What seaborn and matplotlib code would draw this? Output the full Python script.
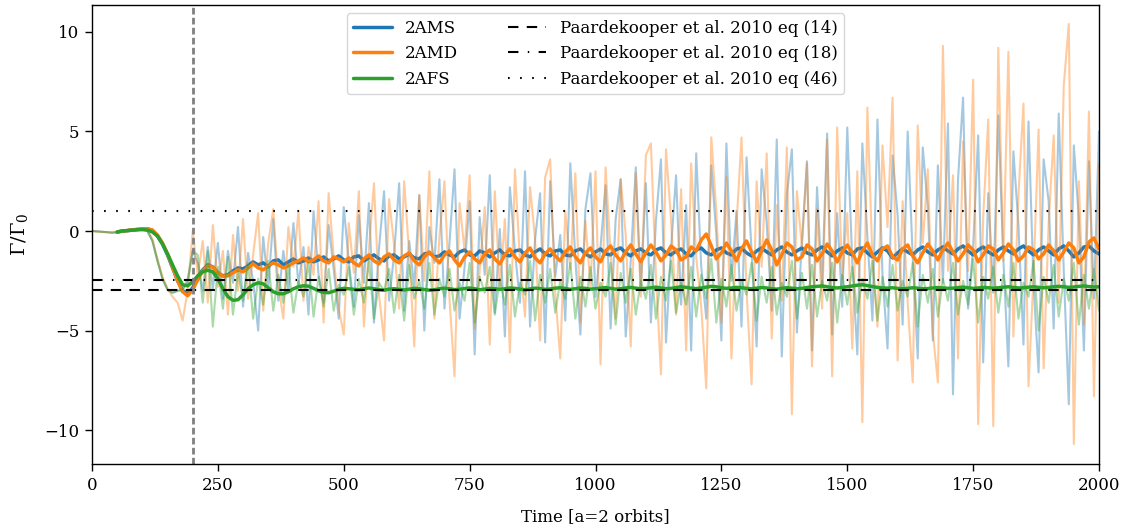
import numpy as np
import pandas as pd
import matplotlib
matplotlib.use("Agg")
import matplotlib.pyplot as plt
import seaborn as sns

# ---------------- data ----------------
series_names = ["2AMS", "2AMD", "2AFS"]
ref_labels = ["Paardekooper et al. 2010 eq (14)",
              "Paardekooper et al. 2010 eq (18)",
              "Paardekooper et al. 2010 eq (46)"]
ref_values = [-2.96, -2.46, 1.0]
t_disc = 200

# raw torque, sampled every 10 time units from t=0 to t=2000
raw_2AMS = [
    0.0, -0.02, -0.04, -0.06, -0.08, -0.06, 0.0, 0.05, 0.08, 0.1, 0.08,
    0.0, -0.5, -1.5, -2.4, -2.95, -3.1, -3.0, -3.0, -2.4, -1.0,
    -1.6, -3.0, -0.8, -2.9, -0.6, -3.4, -1.0, -2.6, 0.2, -3.8,
    -1.1, -2.5, -5.0, -0.3, -2.8, 0.6, -3.5, -1.0, -3.0, 0.4,
    -2.7, -0.8, -4.2, 1.0, -2.2, -3.6, 0.3, -1.9, -4.4, 1.2,
    -1.5, -3.8, 0.8, -2.6, 1.4, -4.6, -0.9, 2.0, -3.5, -1.2,
    2.4, -4.0, -0.5, -2.8, 1.8, -5.0, 0.2, -1.6, 2.6, -3.9,
    -0.6, 3.1, -4.4, -1.8, 1.5, -6.2, 0.7, -2.2, 2.8, -4.1,
    0.1, -5.3, 2.2, -1.0, -3.6, 3.0, -4.8, -0.4, 1.9, -5.6,
    2.5, -2.3, -0.2, -4.5, 3.4, -1.4, -5.2, 1.1, 2.9, -3.3,
    -0.8, 2.3, -4.9, 0.6, 2.6, -5.3, -1.5, 3.2, -2.9, 2.4,
    -4.6, 0.5, 3.6, -5.6, -0.9, 2.8, -3.7, 1.3, -6.0, 3.9,
    -1.8, -4.4, 3.3, -0.2, -5.5, 4.4, -2.5, 1.0, -4.8, 3.7,
    -1.0, -5.8, 3.1, 0.4, -4.0, 4.6, -6.3, 1.8, 4.1, -5.1,
    -0.5, 3.5, -6.0, 2.2, -2.8, 4.9, -5.2, 0.9, -3.8, 5.2,
    -1.6, -6.2, 4.4, -0.3, -4.5, 5.6, -2.2, -5.9, 3.8, 0.8,
    -4.7, 5.0, -1.3, -6.4, 4.2, 1.2, -5.5, 3.3, -2.6, 5.4,
    -8.2, 2.6, 6.7, -3.9, -0.8, 4.8, -6.6, 1.9, -3.1, 5.8,
    -1.4, -6.8, 4.0, 0.3, -5.7, 5.5, -2.7, -7.1, 3.6, 1.5,
    -4.9, 5.9, -2.0, -8.7, 4.3, 0.6, -6.0, 3.5, -3.4, 5.0,
]
raw_2AMD = [
    0.0, -0.02, -0.04, -0.06, -0.08, -0.06, 0.0, 0.05, 0.08, 0.1, 0.1,
    0.05, -0.4, -1.4, -2.3, -2.9, -3.3, -3.6, -4.5, -3.0, 0.0,
    -2.2, -0.5, -3.6, 0.3, -2.8, -1.0, -4.2, -0.2, -3.0, 0.6,
    -3.4, -1.2, 0.9, -4.0, -0.6, 1.1, -2.7, -4.4, 0.2, -1.8,
    1.0, -3.5, -0.8, -2.2, 1.5, -4.6, 1.9, -1.3, -3.9, -5.2,
    0.4, -2.1, 2.0, -4.8, -0.9, 2.4, -3.2, -5.5, 1.6, -0.7,
    -3.9, 2.5, -1.2, -5.8, 1.8, -2.5, 3.0, -4.4, -0.3, 2.5,
    -3.4, -7.3, 1.4, -1.0, 2.8, -4.9, -2.0, 1.2, -5.7, 2.0,
    -2.9, 0.6, -6.1, 3.1, -1.5, -4.3, 2.2, -0.4, -5.5, 2.7,
    3.6, -3.1, -6.4, 1.0, -1.9, 2.9, -4.6, 0.5, -2.8, 3.0,
    -6.7, 3.2, -1.1, -4.4, 2.6, -0.2, -5.8, 2.9, -3.3, 3.8,
    4.4, -2.2, -7.2, 4.1, 0.6, -4.2, 2.1, -6.0, 3.4, -1.3,
    -3.8, -7.9, 4.7, 1.0, -4.6, 2.7, -6.4, 0.3, 4.7, -3.0,
    -7.7, 2.5, -1.8, 3.9, -5.4, 1.3, -3.5, 4.2, -9.2, 2.0,
    -0.8, 3.4, -6.8, 1.1, -3.9, 4.6, -7.3, 5.2, -2.4, 0.9,
    -5.9, 3.0, -9.6, 6.2, -1.4, -4.8, 4.3, 0.2, 6.7, -6.5,
    1.5, -3.6, -7.6, 5.3, -0.6, 3.1, -5.1, -7.6, 9.3, -2.0,
    2.8, -6.4, 4.5, -2.0, 7.6, -9.7, 0.7, 5.6, -9.8, 9.2,
    -1.5, 9.0, -5.3, 1.8, 6.4, -7.8, -2.2, 5.1, -6.9, 0.4,
    4.8, -3.6, 7.3, 10.4, -10.7, 2.5, -4.7, 6.0, -8.3, 3.3,
]
raw_2AFS = [
    0.0, -0.02, -0.04, -0.06, -0.08, -0.06, 0.0, 0.05, 0.08, 0.1, 0.08,
    0.0, -0.5, -1.5, -2.4, -2.95, -3.1, -3.0, -2.9, -2.6, -1.0,
    -1.2, -3.6, -1.0, -4.8, -1.8, -3.9, -1.3, -4.2, -2.0, -3.5,
    -1.6, -4.4, -2.4, -3.7, -1.5, -4.0, -2.2, -3.6, -1.7, -4.1,
    -2.5, -3.3, -1.6, -4.3, -2.3, -3.8, -1.9, -4.0, -2.7, -3.2,
    -1.8, -4.2, -2.4, -3.6, -1.5, -4.4, -2.6, -3.0, -1.9, -4.1,
    -2.2, -4.5, -1.7, -3.4, -2.5, -3.9, -1.6, -4.2, -2.4, -3.3,
    -1.9, -4.0, -2.6, -3.5, -1.6, -4.6, -2.3, -3.1, -1.8, -4.2,
    -2.4, -3.7, -1.7, -4.3, -2.6, -3.2, -1.5, -4.5, -2.2, -3.6,
    -1.9, -4.1, -2.5, -3.4, -1.6, -4.4, -2.3, -3.8, -1.8, -3.9,
    -2.6, -3.3, -1.6, -4.7, -2.1, -3.6, -1.9, -4.2, -2.5, -3.4,
    -1.7, -4.4, -2.3, -3.5, -1.5, -4.1, -2.6, -3.7, -1.8, -4.3,
    -2.2, -3.4, -1.4, -4.6, -2.4, -3.8, -1.7, -4.0, -2.5, -3.2,
    -1.6, -4.5, -2.3, -3.6, -1.8, -4.2, -2.6, -3.3, -1.5, -4.4,
    -2.1, -3.9, -1.7, -4.3, -2.5, -3.5, -1.6, -4.6, -2.2, -3.7,
    -1.8, -4.1, -2.4, -3.4, -1.5, -4.5, -2.3, -3.8, -1.7, -4.0,
    -2.5, -3.3, -1.6, -4.8, -2.2, -3.6, -1.9, -4.3, -2.4, -3.5,
    -1.6, -4.2, -2.5, -3.7, -1.4, -4.6, -2.3, -3.4, -1.8, -4.1,
    -2.2, -3.8, -1.6, -4.4, -2.6, -3.3, -1.5, -5.0, -2.3, -3.6,
    -1.7, -4.3, -2.4, -3.5, -1.6, -4.7, -2.2, -3.9, -1.9, -4.0,
]

# running-mean torque, sampled every 10 time units from t=50 to t=2000
smooth_2AMS = [
    -0.05, 0.0, 0.02, 0.05, 0.08, 0.1,
    0.1, 0.03, -0.25, -0.65, -1.2, -1.85, -2.5, -3.0, -3.15, -2.85,
    -2.3, -1.95, -1.7, -1.8, -2.1, -2.25, -2.2, -2.0, -1.85, -1.9,
    -1.75, -1.55, -1.7, -1.6, -1.8, -1.5, -1.45, -1.7, -1.55, -1.4,
    -1.6, -1.5, -1.35, -1.55, -1.45, -1.3, -1.5, -1.4, -1.25, -1.45,
    -1.55, -1.3, -1.25, -1.5, -1.35, -1.2, -1.4, -1.5, -1.25, -1.2,
    -1.4, -1.3, -1.15, -1.35, -1.4, -1.15, -1.1, -1.3, -1.25, -1.05,
    -1.2, -1.3, -1.05, -0.95, -1.2, -1.25, -1.0, -1.1, -1.3, -1.1,
    -0.95, -1.2, -1.25, -1.0, -0.95, -1.2, -1.3, -1.05, -0.9, -1.15,
    -1.25, -1.0, -0.95, -1.2, -1.25, -1.0, -0.9, -1.15, -1.3, -1.05,
    -0.9, -1.15, -1.2, -0.95, -0.85, -1.1, -1.25, -1.0, -0.9, -1.1,
    -1.2, -0.95, -0.85, -1.1, -1.2, -1.0, -0.9, -1.15, -1.25, -0.95,
    -0.85, -1.1, -1.2, -0.95, -0.85, -1.1, -1.2, -0.9, -0.85, -1.1,
    -1.25, -1.0, -0.85, -1.05, -1.2, -0.95, -0.8, -1.05, -1.2, -1.0,
    -0.85, -1.1, -1.2, -0.95, -0.8, -1.05, -1.25, -1.0, -0.85, -1.1,
    -1.2, -0.9, -0.85, -1.1, -1.3, -1.05, -0.85, -1.0, -1.35, -1.1,
    -0.9, -1.05, -1.2, -0.95, -0.8, -1.05, -1.2, -0.95, -0.8, -1.0,
    -1.15, -0.9, -0.75, -1.0, -1.2, -0.95, -0.8, -1.05, -1.2, -0.95,
    -0.8, -1.0, -1.15, -0.9, -0.75, -1.0, -1.2, -0.95, -0.8, -1.0,
    -1.2, -0.9, -0.75, -1.0, -1.3, -1.1, -0.8, -0.75, -1.0, -1.15,
]
smooth_2AMD = [
    -0.05, 0.0, 0.02, 0.05, 0.08, 0.1,
    0.12, 0.05, -0.2, -0.6, -1.15, -1.8, -2.5, -3.05, -3.25, -2.95,
    -2.45, -2.0, -1.75, -1.8, -2.1, -2.28, -2.25, -2.1, -1.95, -2.05,
    -1.85, -1.65, -1.85, -1.95, -1.75, -1.6, -1.7, -1.85, -1.75, -1.6,
    -1.5, -1.35, -1.55, -1.45, -1.25, -1.5, -1.6, -1.3, -1.4, -1.55,
    -1.35, -1.6, -1.75, -1.4, -1.2, -1.5, -1.65, -1.3, -1.15, -1.45,
    -1.6, -1.25, -1.1, -1.5, -1.7, -1.3, -1.05, -1.35, -1.6, -1.2,
    -1.0, -1.45, -1.75, -1.3, -1.05, -1.4, -1.6, -1.15, -0.95, -1.4,
    -1.65, -1.2, -0.9, -1.3, -1.55, -1.1, -0.85, -1.35, -1.6, -1.15,
    -0.9, -1.25, -1.5, -1.05, -0.8, -1.3, -1.6, -1.1, -0.85, -1.3,
    -1.55, -1.0, -0.75, -1.2, -1.5, -1.05, -0.7, -1.15, -1.55, -1.1,
    -0.7, -1.05, -1.5, -1.2, -0.75, -0.95, -1.45, -1.3, -0.8, -1.0,
    -0.45, -0.15, -0.75, -1.4, -1.1, -0.6, -1.0, -1.5, -0.9, -0.5,
    -1.05, -1.55, -1.0, -0.45, -0.95, -1.7, -1.2, -0.6, -0.8, -1.45,
    -1.3, -0.7, -0.9, -1.5, -1.15, -0.65, -1.0, -1.55, -1.05, -0.7,
    -1.1, -1.6, -1.0, -0.6, -1.2, -1.5, -0.9, -0.75, -1.3, -1.45,
    -0.9, -0.7, -1.25, -1.6, -1.1, -0.65, -1.0, -1.45, -0.95, -0.6,
    -1.05, -1.5, -1.15, -0.7, -0.95, -1.55, -1.2, -0.75, -0.9, -1.45,
    -1.1, -0.65, -0.95, -1.5, -1.25, -0.8, -0.95, -1.4, -1.15, -0.7,
    -1.0, -1.45, -1.05, -0.6, -0.85, -1.6, -1.3, -0.55, -0.35, -0.9,
]
smooth_2AFS = [
    -0.05, 0.0, 0.02, 0.04, 0.06, 0.07,
    0.05, -0.05, -0.25, -0.65, -1.15, -1.7, -2.25, -2.7, -2.75, -2.55,
    -2.25, -2.05, -1.97, -2.05, -2.4, -2.9, -3.3, -3.48, -3.45, -3.2,
    -2.9, -2.7, -2.6, -2.65, -2.85, -3.05, -3.15, -3.15, -3.05, -2.9,
    -2.8, -2.75, -2.77, -2.88, -3.0, -3.08, -3.1, -3.02, -2.93, -2.88,
    -2.9, -2.93, -2.95, -2.9, -2.86, -2.9, -2.95, -2.97, -2.92, -2.9,
    -2.93, -2.96, -2.92, -2.88, -2.9, -2.94, -2.97, -2.95, -2.9, -2.87,
    -2.9, -2.94, -2.93, -2.89, -2.86, -2.9, -2.95, -2.92, -2.88, -2.9,
    -2.93, -2.9, -2.86, -2.88, -2.92, -2.95, -2.91, -2.87, -2.89, -2.93,
    -2.91, -2.87, -2.85, -2.89, -2.93, -2.9, -2.86, -2.88, -2.92, -2.9,
    -2.87, -2.84, -2.88, -2.92, -2.9, -2.86, -2.83, -2.87, -2.9, -2.88,
    -2.85, -2.82, -2.86, -2.9, -2.88, -2.84, -2.8, -2.83, -2.87, -2.89,
    -2.86, -2.82, -2.78, -2.8, -2.85, -2.88, -2.86, -2.83, -2.85, -2.88,
    -2.9, -2.87, -2.84, -2.86, -2.9, -2.92, -2.88, -2.85, -2.87, -2.9,
    -2.88, -2.84, -2.8, -2.78, -2.76, -2.8, -2.84, -2.86, -2.83, -2.8,
    -2.76, -2.72, -2.7, -2.74, -2.79, -2.83, -2.86, -2.87, -2.85, -2.88,
    -2.9, -2.88, -2.85, -2.87, -2.9, -2.89, -2.86, -2.84, -2.86, -2.88,
    -2.87, -2.84, -2.82, -2.85, -2.88, -2.86, -2.83, -2.85, -2.87, -2.85,
    -2.82, -2.8, -2.83, -2.86, -2.85, -2.82, -2.8, -2.83, -2.85, -2.83,
    -2.8, -2.78, -2.8, -2.83, -2.81, -2.78, -2.76, -2.79, -2.81, -2.8,
]

t_raw = np.arange(0, 2001, 10)
t_smooth = np.arange(50, 2001, 10)
raw_all = [raw_2AMS, raw_2AMD, raw_2AFS]
smooth_all = [smooth_2AMS, smooth_2AMD, smooth_2AFS]
for r, s in zip(raw_all, smooth_all):
    assert len(r) == len(t_raw), len(r)
    assert len(s) == len(t_smooth), len(s)

colors = ["#1f77b4", "#ff7f0e", "#2ca02c"]

# ---------------- style ----------------
sns.set_theme(style="ticks")
plt.rcParams.update({
    "font.family": ["DejaVu Serif"],
    "mathtext.fontset": "dejavuserif",
    "axes.edgecolor": "black",
    "axes.linewidth": 1.0,
    "text.color": "black",
    "axes.labelcolor": "black",
    "xtick.color": "black",
    "ytick.color": "black",
    "xtick.direction": "out",
    "ytick.direction": "out",
})

fig = plt.figure(figsize=(11.26, 5.32), dpi=100)
ax = fig.add_axes([92 / 1126, 1 - 464 / 532, (1099 - 92) / 1126, (464 - 5) / 532])

handles = []
for name, col, r, s in zip(series_names, colors, raw_all, smooth_all):
    df_r = pd.DataFrame({"t": t_raw, "torque": r})
    df_s = pd.DataFrame({"t": t_smooth, "torque": s})
    sns.lineplot(data=df_r, x="t", y="torque", ax=ax, color=col, alpha=0.4,
                 lw=1.5, legend=False, estimator=None, sort=False)
    sns.lineplot(data=df_s, x="t", y="torque", ax=ax, color=col, lw=2.5,
                 legend=False, estimator=None, sort=False)
    handles.append(ax.lines[-1])
    handles[-1].set_label(name)

ref_styles = [(0, (5.0, 4.0)), (0, (5.0, 4.5, 0.7, 4.5)), (0, (0.8, 5.0))]
for val, lab, ls in zip(ref_values, ref_labels, ref_styles):
    h = ax.axhline(val, color="black", lw=1.5, ls=ls, label=lab)
    handles.append(h)

ax.axvline(t_disc, color="grey", lw=2.0, ls=(0, (2.4, 1.2)))

ax.set_xlim(0, 2000)
ax.set_ylim(-11.7, 11.35)
ax.set_xticks([0, 250, 500, 750, 1000, 1250, 1500, 1750, 2000])
ax.set_yticks([-10, -5, 0, 5, 10])
ax.tick_params(axis="both", labelsize=12, length=5, width=1.0, pad=4)
for sp in ax.spines.values():
    sp.set_visible(True)
    sp.set_color("black")

ax.set_xlabel("Time [a=2 orbits]", fontsize=12)
ax.set_ylabel(r"$\Gamma/\Gamma_0$", fontsize=14)
ax.xaxis.set_label_coords(0.5, -0.095)
ax.yaxis.set_label_coords(-0.062, 0.5)

ax.legend(handles=handles, ncol=2, loc="upper center", fontsize=12,
          frameon=True, framealpha=0.8, edgecolor="0.8", fancybox=True,
          handlelength=2.3, columnspacing=3.0)

fig.savefig("out.png", dpi=100)
